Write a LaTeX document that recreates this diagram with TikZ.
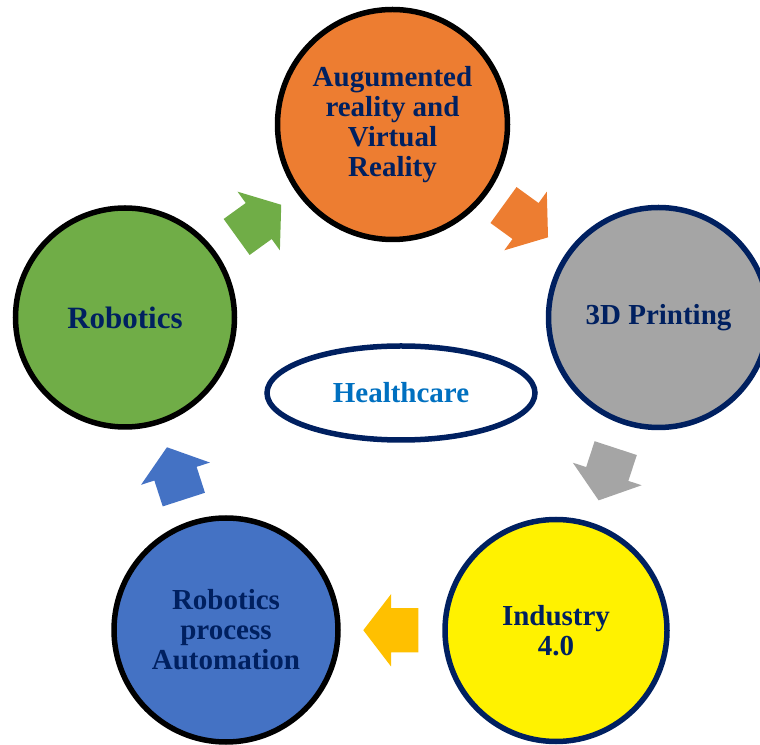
\documentclass[tikz,border=0pt]{standalone}
\usepackage{fontspec}
\setmainfont{Liberation Serif}
\usetikzlibrary{shapes.geometric,shapes.arrows}
\definecolor{navy}{HTML}{002060}
\definecolor{hcblue}{HTML}{0070C0}
\definecolor{arorange}{HTML}{ED7D31}
\definecolor{prgray}{HTML}{A5A5A5}
\definecolor{rpablue}{HTML}{4472C4}
\definecolor{robgreen}{HTML}{70AD47}
\definecolor{indgold}{HTML}{FFC000}
\tikzset{
  bubble/.style={circle,inner sep=0pt,line width=5.5pt,align=center,text=navy,
    font=\fontsize{29}{30}\selectfont\bfseries},
  flow/.style={single arrow,draw=none,inner xsep=0pt,inner ysep=22pt,minimum height=55pt,
    single arrow head extend=14pt,single arrow tip angle=105}
}
\newcommand{\bubble}[7]{\node[bubble,fill=#5,draw=#6,minimum size=#4pt] (#1) at (#2,#3) {#7};}
\newcommand{\cyclearrow}[3]{\path (#1.center) -- node[flow,fill=#3,sloped,allow upside down,pos=0.4167,anchor=tail] {} (#2.center);}

\begin{document}
\begin{tikzpicture}[x=1pt,y=1pt]
    \useasboundingbox (0,0) rectangle (760,744);
    \bubble{AR}{392.5}{619.5}{230}{arorange}{black}{Augumented\\reality and\\Virtual\\Reality}
    \bubble{Print}{658.5}{426.5}{220}{prgray}{navy}{\raisebox{-2pt}{3D Printing}}
    \bubble{Ind}{556}{113.5}{222}{yellow}{navy}{Industry\\4.0}
    \bubble{RPA}{226}{114}{224}{rpablue}{black}{Robotics\\process\\Automation}
    \bubble{Rob}{125}{426.5}{219}{robgreen}{black}{\fontsize{31}{32}\selectfont Robotics}
    \node[ellipse,draw=navy,line width=5.5pt,minimum width=268pt,minimum height=94pt,
      text=hcblue,font=\fontsize{29}{30}\selectfont\bfseries] (HC) at (401,351) {Healthcare};
    \cyclearrow{Rob}{AR}{robgreen}\cyclearrow{AR}{Print}{arorange}
    \cyclearrow{Print}{Ind}{prgray}\cyclearrow{Ind}{RPA}{indgold}
    \cyclearrow{RPA}{Rob}{rpablue}
\end{tikzpicture}
\end{document}
